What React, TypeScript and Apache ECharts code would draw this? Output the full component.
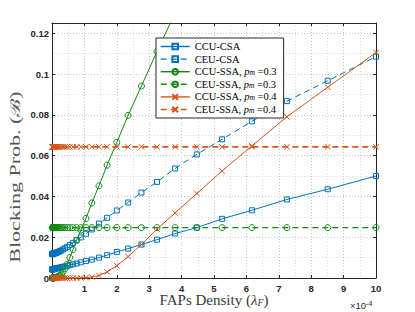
import React, { useEffect, useRef } from "react";
import * as echarts from "echarts";

// FAP density, in units of 1e-4
const xValues = [
  0.010, 0.012, 0.014, 0.016, 0.019, 0.022, 0.026, 0.030, 0.036, 0.042, 0.049,
  0.058, 0.068, 0.080, 0.094, 0.11, 0.13, 0.15, 0.18, 0.21, 0.25, 0.29, 0.34,
  0.40, 0.47, 0.55, 0.65, 0.76, 0.89, 1.05, 1.23, 1.45, 1.70, 2.00, 2.35, 2.76,
  3.24, 3.80, 4.47, 5.25, 6.17, 7.25, 8.51, 10.0,
];

const ccuCsa = [
  0.0042, 0.0042, 0.0042, 0.0042, 0.0043, 0.0043, 0.0043, 0.0043, 0.0043, 0.0044, 0.0044,
  0.0044, 0.0045, 0.0045, 0.0046, 0.0046, 0.0047, 0.0048, 0.0049, 0.0050, 0.0051, 0.0053,
  0.0055, 0.0057, 0.0060, 0.0063, 0.0067, 0.0071, 0.0077, 0.0083, 0.0090, 0.0100, 0.0112,
  0.0128, 0.0144, 0.0164, 0.0188, 0.0218, 0.0247, 0.0290, 0.0332, 0.0385, 0.0435, 0.0500,
];

const ceuCsa = [
  0.0117, 0.0117, 0.0117, 0.0118, 0.0118, 0.0118, 0.0118, 0.0119, 0.0119, 0.0119, 0.0120,
  0.0120, 0.0121, 0.0121, 0.0122, 0.0123, 0.0124, 0.0125, 0.0127, 0.0129, 0.0132, 0.0135,
  0.0140, 0.0146, 0.0153, 0.0162, 0.0172, 0.0185, 0.0199, 0.0217, 0.0238, 0.0267, 0.0295,
  0.0331, 0.0370, 0.0419, 0.0471, 0.0537, 0.0606, 0.0680, 0.0768, 0.0867, 0.0967, 0.1085,
];

const ccuSsa03 = [
  0, 0, 0, 0, 0, 0, 0, 0, 0.0001, 0.0001, 0.0001,
  0.0001, 0.0001, 0.0001, 0.0002, 0.0002, 0.0003, 0.0004, 0.0006, 0.0009, 0.0013, 0.0019,
  0.0029, 0.0045, 0.0068, 0.0100, 0.0140, 0.0185, 0.0235, 0.0292, 0.0368, 0.0452, 0.0553,
  0.0665, 0.0797, 0.0941, 0.1110, 0.1300, null, null, null, null, null, null,
];

const ceuSsa03 = [
  0.0247, 0.0247, 0.0247, 0.0247, 0.0247, 0.0247, 0.0247, 0.0247, 0.0247, 0.0247, 0.0247,
  0.0247, 0.0247, 0.0247, 0.0247, 0.0247, 0.0247, 0.0247, 0.0247, 0.0247, 0.0247, 0.0247,
  0.0247, 0.0247, 0.0247, 0.0247, 0.0247, 0.0247, 0.0247, 0.0247, 0.0247, 0.0247, 0.0247,
  0.0247, 0.0247, 0.0247, 0.0247, 0.0247, 0.0247, 0.0247, 0.0247, 0.0247, 0.0247, 0.0247,
];

const ccuSsa04 = [
  0, 0, 0, 0, 0, 0, 0, 0, 0, 0, 0,
  0, 0, 0, 0, 0, 0, 0, 0, 0, 0, 0,
  0, 0, 0, 0, 0, 0, 0.0001, 0.0002, 0.0005, 0.0012, 0.0030,
  0.0060, 0.0105, 0.0164, 0.0240, 0.0319, 0.0414, 0.0525, 0.0648, 0.0790, 0.0935, 0.1105,
];

const ceuSsa04 = [
  0.0643, 0.0643, 0.0643, 0.0643, 0.0643, 0.0643, 0.0643, 0.0643, 0.0643, 0.0643, 0.0643,
  0.0643, 0.0643, 0.0643, 0.0643, 0.0643, 0.0643, 0.0643, 0.0643, 0.0643, 0.0643, 0.0643,
  0.0643, 0.0643, 0.0643, 0.0643, 0.0643, 0.0643, 0.0643, 0.0643, 0.0643, 0.0643, 0.0643,
  0.0643, 0.0643, 0.0643, 0.0643, 0.0643, 0.0643, 0.0643, 0.0643, 0.0643, 0.0643, 0.0643,
];

const seriesNames = [
  "CCU-CSA",
  "CEU-CSA",
  "CCU-SSA, pm=0.3",
  "CEU-SSA, pm=0.3",
  "CCU-SSA, pm=0.4",
  "CEU-SSA, pm=0.4",
];

const BLUE = "#0072BD";
const GREEN = "#108a10";
const ORANGE = "#D95319";
const AX = "#262626";
const CROSS = "path://M0 0L10 10M10 0L0 10";
const SERIF = "'Liberation Serif', 'DejaVu Serif', serif";
const SANS = "'Liberation Sans', Arial, sans-serif";

function mk(
  name: string,
  vals: (number | null)[],
  color: string,
  dashed: boolean,
  symbol: string,
  size: number,
  width: number
) {
  const data: [number, number][] = [];
  xValues.forEach((x, i) => {
    const v = vals[i];
    if (v !== null && v !== undefined) data.push([x, v]);
  });
  return {
    name,
    type: "line",
    data,
    symbol,
    symbolSize: size,
    showSymbol: true,
    symbolKeepAspect: true,
    lineStyle: { color, width, type: dashed ? [6, 4] : "solid" },
    itemStyle: { color: "rgba(255,255,255,0)", borderColor: color, borderWidth: 1 },
    emphasis: { disabled: true },
    clip: true,
  };
}

export default function App() {
  const ref = useRef<HTMLDivElement>(null);
  useEffect(() => {
    const chart = echarts.init(ref.current!, null, { renderer: "svg" });
    const gridSplit = { show: true, lineStyle: { color: "#c4c4c4", type: [1, 2], width: 1 } };
    const minorSplit = { show: true, lineStyle: { color: "#dadada", type: [1, 2], width: 1 } };
    const axLine = { show: true, onZero: false, lineStyle: { color: AX, width: 1 } };
    const axTick = { show: true, inside: true, length: 3, lineStyle: { color: AX, width: 1 } };
    const tickLabel = {
      fontSize: 9.5,
      fontWeight: "bold",
      color: AX,
      fontFamily: SANS,
    };
    chart.setOption({
      animation: false,
      backgroundColor: "#ffffff",
      grid: { left: 52, top: 23, width: 324, height: 255, containLabel: false },
      xAxis: [
        {
          type: "value",
          min: 0,
          max: 10,
          interval: 1,
          position: "bottom",
          axisLine: axLine,
          axisTick: axTick,
          axisLabel: { ...tickLabel, margin: 5, showMinLabel: false },
          splitLine: gridSplit,
          minorTick: { show: false, splitNumber: 2 },
          minorSplitLine: minorSplit,
        },
        {
          type: "value",
          min: 0,
          max: 10,
          interval: 1,
          position: "top",
          axisLine: axLine,
          axisTick: axTick,
          axisLabel: { show: false },
          splitLine: { show: false },
        },
      ],
      yAxis: [
        {
          type: "value",
          min: 0,
          max: 0.125,
          interval: 0.02,
          position: "left",
          axisLine: axLine,
          axisTick: axTick,
          axisLabel: { ...tickLabel, margin: 3, showMaxLabel: false },
          splitLine: gridSplit,
          minorTick: { show: false, splitNumber: 2 },
          minorSplitLine: minorSplit,
        },
        {
          type: "value",
          min: 0,
          max: 0.125,
          interval: 0.02,
          position: "right",
          axisLine: axLine,
          axisTick: axTick,
          axisLabel: { show: false },
          splitLine: { show: false },
        },
      ],
      legend: {
        data: seriesNames,
        orient: "vertical",
        left: 156,
        top: 38,
        padding: [3, 7, 3, 4],
        itemWidth: 29,
        itemHeight: 7,
        itemGap: 1.6,
        backgroundColor: "#ffffff",
        borderColor: AX,
        borderWidth: 1,
        borderRadius: 0,
        selectedMode: false,
        lineStyle: { width: 1.4 },
        formatter: (name: string) => {
          const m = name.match(/^(.*), pm=(.*)$/);
          if (m) return `{t|${m[1]}, }{i|p}{s|m}{t| =${m[2]}}`;
          return `{t|${name}}`;
        },
        textStyle: {
          fontFamily: SERIF,
          fontSize: 10.5,
          color: "#000",
          lineHeight: 10,
          rich: {
            t: { fontFamily: SERIF, fontSize: 10.5, color: "#000", lineHeight: 10 },
            i: { fontFamily: SERIF, fontSize: 10.5, fontStyle: "italic", color: "#000", lineHeight: 10 },
            s: {
              fontFamily: SERIF,
              fontSize: 7.5,
              fontStyle: "italic",
              color: "#000",
              lineHeight: 6,
              verticalAlign: "bottom",
            },
          },
        },
      },
      graphic: [
        {
          type: "text",
          x: 214,
          y: 300,
          style: {
            text: "{a|FAPs Density (}{b|λ}{c|F}{a|)}",
            align: "center",
            verticalAlign: "middle",
            rich: {
              a: { fontFamily: SERIF, fontSize: 15, fill: "#3a3a3a" },
              b: { fontFamily: SERIF, fontSize: 15, fontStyle: "italic", fill: "#3a3a3a" },
              c: {
                fontFamily: SERIF,
                fontSize: 10,
                fontStyle: "italic",
                fill: "#3a3a3a",
                lineHeight: 7,
                verticalAlign: "bottom",
              },
            },
          },
        },
        {
          type: "text",
          x: 16,
          y: 177,
          rotation: Math.PI / 2,
          scaleY: 0.62,
          style: {
            text: "Blocking Prob. (ℬ)",
            align: "center",
            verticalAlign: "middle",
            fontFamily: SERIF,
            fontSize: 22,
            fill: "#555555",
          },
        },
        {
          type: "text",
          x: 350,
          y: 305,
          style: {
            text: "{a|×10}{b|-4}",
            align: "left",
            verticalAlign: "middle",
            rich: {
              a: { fontFamily: SANS, fontSize: 9.5, fill: AX },
              b: { fontFamily: SANS, fontSize: 7, fill: AX, lineHeight: 5, verticalAlign: "top" },
            },
          },
        },
      ],
      series: [
        mk(seriesNames[0], ccuCsa, BLUE, false, "rect", 5, 1),
        mk(seriesNames[1], ceuCsa, BLUE, true, "rect", 5, 1),
        mk(seriesNames[2], ccuSsa03, GREEN, false, "circle", 6, 1),
        mk(seriesNames[3], ceuSsa03, GREEN, true, "circle", 6, 1.2),
        mk(seriesNames[4], ccuSsa04, ORANGE, false, CROSS, 5.5, 1),
        mk(seriesNames[5], ceuSsa04, ORANGE, true, CROSS, 5.5, 1.6),
      ],
    });
    return () => chart.dispose();
  }, []);
  return (
    <div
      ref={ref}
      style={{ position: "fixed", left: 0, top: 0, width: 415, height: 312 }}
    />
  );
}
